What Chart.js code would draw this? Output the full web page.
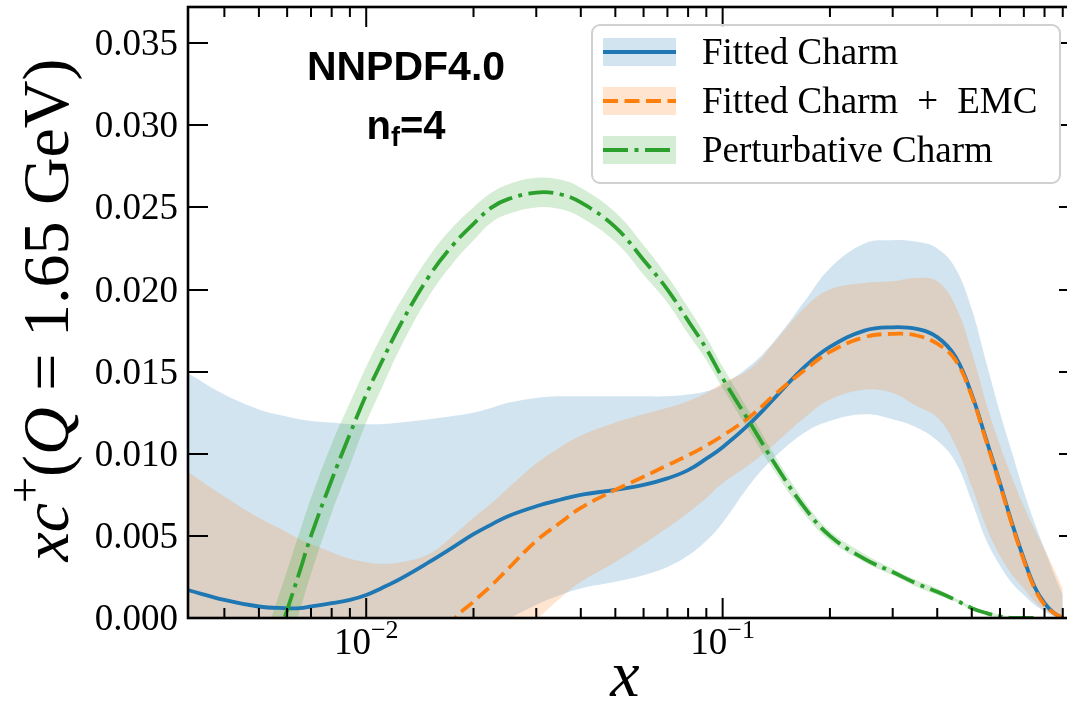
<!DOCTYPE html>
<html>
<head>
<meta charset="utf-8">
<script src="https://cdn.jsdelivr.net/npm/chart.js@4.4.1/dist/chart.umd.min.js"></script>
<style>
  html, body { margin: 0; padding: 0; background: #fff; }
  #wrap { width: 1067px; height: 725px; overflow: hidden; }
</style>
</head>
<body>
<div id="wrap"><canvas id="chart" width="1067" height="725"></canvas></div>
<script>
// x grid (log scale) shared by every series
const xGrid = [0.00316, 0.004, 0.005, 0.0059, 0.0065, 0.007, 0.008, 0.009, 0.01, 0.011,
  0.0125, 0.015, 0.0175, 0.02, 0.0225, 0.025, 0.03, 0.035, 0.04, 0.05,
  0.06, 0.07, 0.08, 0.09, 0.1, 0.12, 0.14, 0.17, 0.2, 0.25,
  0.3, 0.35, 0.4, 0.45, 0.5, 0.55, 0.6, 0.65, 0.7, 0.75,
  0.8, 0.85, 0.9];

// Fitted Charm
const fittedCentral = [0.0017, 0.0011, 0.0007, 0.0006, 0.0006, 0.0007, 0.0009, 0.0011, 0.0014, 0.0018,
  0.0024, 0.0034, 0.0043, 0.0051, 0.0057, 0.0062, 0.0068, 0.0072, 0.0075, 0.0078,
  0.0081, 0.0085, 0.0090, 0.0097, 0.0104, 0.0119, 0.0134, 0.0153, 0.0165, 0.0175,
  0.0177, 0.0176, 0.0171, 0.0159, 0.0136, 0.0108, 0.0082, 0.0057, 0.0036, 0.0019,
  0.0009, 0.0003, 0.0000];
const fittedUpper = [0.0149, 0.0136, 0.0127, 0.0123, 0.0121, 0.0120, 0.0119, 0.0118, 0.0118, 0.0118,
  0.0119, 0.0121, 0.0123, 0.0125, 0.0128, 0.0131, 0.0134, 0.0135, 0.0135, 0.0135,
  0.0135, 0.0135, 0.0136, 0.0138, 0.0142, 0.0154, 0.0169, 0.0193, 0.0213, 0.0228,
  0.0230, 0.0229, 0.0225, 0.0213, 0.0188, 0.0155, 0.0125, 0.0100, 0.0077, 0.0058,
  0.0042, 0.0027, 0.0014];
const fittedLower = [-0.0080, -0.0075, -0.0070, -0.0066, -0.0063, -0.0060, -0.0055, -0.0050, -0.0046, -0.0042,
  -0.0036, -0.0028, -0.0021, -0.0014, -0.0007, -0.0001, 0.0008, 0.0014, 0.0018, 0.0022,
  0.0026, 0.0031, 0.0038, 0.0047, 0.0058, 0.0082, 0.0098, 0.0113, 0.0120, 0.0124,
  0.0121, 0.0116, 0.0108, 0.0095, 0.0071, 0.0047, 0.0032, 0.0021, 0.0014, 0.0008,
  0.0004, 0.0001, 0.0000];

// Fitted Charm + EMC
const emcCentral = [null, null, null, null, null, null, null, null, null, null,
  null, -0.0030, -0.0002, 0.0010, 0.0020, 0.0030, 0.0047, 0.0058, 0.0067, 0.0078,
  0.0086, 0.0093, 0.0099, 0.0105, 0.0111, 0.0123, 0.0136, 0.0151, 0.0162, 0.0171,
  0.0173, 0.0172, 0.0167, 0.0157, 0.0135, 0.0107, 0.0081, 0.0056, 0.0035, 0.0018,
  0.0008, 0.0003, 0.0000];
const emcUpper = [0.0089, 0.0074, 0.0061, 0.0053, 0.0048, 0.0045, 0.0040, 0.0036, 0.0034, 0.0033,
  0.0034, 0.0039, 0.0050, 0.0061, 0.0070, 0.0079, 0.0094, 0.0104, 0.0111, 0.0119,
  0.0124, 0.0128, 0.0132, 0.0137, 0.0143, 0.0152, 0.0168, 0.0189, 0.0200, 0.0204,
  0.0205, 0.0207, 0.0205, 0.0190, 0.0162, 0.0130, 0.0105, 0.0085, 0.0068, 0.0054,
  0.0042, 0.0030, 0.0018];
const emcLower = [-0.0100, -0.0095, -0.0090, -0.0085, -0.0082, -0.0080, -0.0075, -0.0070, -0.0066, -0.0062,
  -0.0057, -0.0050, -0.0043, -0.0035, -0.0026, -0.0015, -0.0001, 0.0012, 0.0022, 0.0034,
  0.0045, 0.0055, 0.0064, 0.0073, 0.0082, 0.0094, 0.0106, 0.0122, 0.0133, 0.0139,
  0.0137, 0.0129, 0.0122, 0.0105, 0.0080, 0.0055, 0.0038, 0.0026, 0.0018, 0.0010,
  0.0005, 0.0002, 0.0000];

// Perturbative Charm
const pertCentral = [null, null, -0.0048, 0.0000, 0.0028, 0.0050, 0.0084, 0.0112, 0.0136, 0.0155,
  0.0179, 0.0208, 0.0227, 0.0240, 0.0250, 0.0255, 0.0259, 0.0258, 0.0253, 0.0238,
  0.0218, 0.0200, 0.0181, 0.0164, 0.0146, 0.0118, 0.0094, 0.0067, 0.0050, 0.0036,
  0.0028, 0.0021, 0.0016, 0.0011, 0.0006, 0.0003, 0.0001, 0.0000, 0.0000, 0.0000,
  null, null, null];
const pertUpper = [null, null, -0.0022, 0.0024, 0.0052, 0.0073, 0.0106, 0.0131, 0.0153, 0.0171,
  0.0193, 0.0220, 0.0238, 0.0250, 0.0259, 0.0264, 0.0268, 0.0267, 0.0262, 0.0247,
  0.0227, 0.0208, 0.0189, 0.0171, 0.0153, 0.0124, 0.0099, 0.0071, 0.0053, 0.0039,
  0.0030, 0.0023, 0.0018, 0.0012, 0.0007, 0.0004, 0.0002, 0.0001, 0.0000, 0.0000,
  null, null, null];
const pertLower = [null, null, -0.0070, -0.0024, 0.0004, 0.0027, 0.0064, 0.0093, 0.0119, 0.0139,
  0.0165, 0.0196, 0.0216, 0.0230, 0.0241, 0.0246, 0.0250, 0.0249, 0.0244, 0.0229,
  0.0209, 0.0192, 0.0173, 0.0157, 0.0140, 0.0112, 0.0089, 0.0063, 0.0047, 0.0034,
  0.0026, 0.0019, 0.0014, 0.0010, 0.0005, 0.0002, 0.0000, 0.0000, 0.0000, 0.0000,
  null, null, null];

// axes: the frame's right edge (x = 1) lies just past the picture's edge
const xMin = 0.0031623, xMax = 0.925;
const yMin = 0, yMax = 0.0372;
const yTicks = [0, 0.005, 0.01, 0.015, 0.02, 0.025, 0.03, 0.035];
const yTickLabels = ["0.000", "0.005", "0.010", "0.015", "0.020", "0.025", "0.030", "0.035"];
const xMajorTicks = [0.01, 0.1];
const xMajorExponents = ["\u22122", "\u22121"];
const xMinorTicks = [0.004, 0.005, 0.006, 0.007, 0.008, 0.009,
  0.02, 0.03, 0.04, 0.05, 0.06, 0.07, 0.08, 0.09,
  0.2, 0.3, 0.4, 0.5, 0.6, 0.7, 0.8, 0.9];

// legend labels, each as text pieces (the "+" sits in wider spacing)
const seriesLabels = [["Fitted Charm"], ["Fitted Charm", "+", "EMC"], ["Perturbative Charm"]];

const blue = "#1f77b4", orange = "#ff7f0e", green = "#2ca02c";
const blueBand = "rgba(31,119,180,0.2)", orangeBand = "rgba(255,127,14,0.2)", greenBand = "rgba(44,160,44,0.2)";
const serif = "'Liberation Serif', 'DejaVu Serif', serif";
const sans = "'Liberation Sans', Arial, sans-serif";

function pts(ys) {
  var out = [];
  for (var i = 0; i < xGrid.length; i++) {
    if (ys[i] !== null) out.push({ x: xGrid[i], y: ys[i] });
  }
  return out;
}

function band(ys, color, target, order) {
  return { data: pts(ys), borderWidth: 0, borderColor: "rgba(0,0,0,0)",
    backgroundColor: color, fill: target, order: order };
}

function curve(ys, color, dash, order) {
  return { data: pts(ys), borderColor: color, borderWidth: 3.8, borderDash: dash,
    fill: false, order: order };
}

// draws a list of text pieces one after another
function drawRuns(ctx, runs, x, y) {
  runs.forEach(function (r) {
    ctx.font = r.font;
    ctx.fillText(r.t, x, y + (r.dy || 0));
    x += ctx.measureText(r.t).width + (r.gap || 0);
  });
}
function runsWidth(ctx, runs) {
  var w = 0;
  runs.forEach(function (r) { ctx.font = r.font; w += ctx.measureText(r.t).width + (r.gap || 0); });
  return w;
}

// axes frame, inward ticks, labels, annotation and legend
var decorations = {
  id: "decorations",
  afterDraw: function (chart) {
    var ctx = chart.ctx, a = chart.chartArea;
    var xs = chart.scales.x, ys = chart.scales.y;
    var rightSpine = a.right + 12;
    ctx.save();
    ctx.strokeStyle = "#000";

    // ticks
    ctx.lineWidth = 2;
    ctx.beginPath();
    yTicks.forEach(function (v) {
      var p = Math.round(ys.getPixelForValue(v));
      ctx.moveTo(a.left, p); ctx.lineTo(a.left + 20, p);
      ctx.moveTo(rightSpine, p); ctx.lineTo(rightSpine - 20, p);
    });
    xMajorTicks.forEach(function (v) {
      var p = xs.getPixelForValue(v);
      ctx.moveTo(p, a.bottom); ctx.lineTo(p, a.bottom - 20);
      ctx.moveTo(p, a.top); ctx.lineTo(p, a.top + 20);
    });
    xMinorTicks.forEach(function (v) {
      var p = xs.getPixelForValue(v);
      ctx.moveTo(p, a.bottom); ctx.lineTo(p, a.bottom - 10);
      ctx.moveTo(p, a.top); ctx.lineTo(p, a.top + 10);
    });
    ctx.stroke();

    // frame (right side is off the picture)
    ctx.lineWidth = 2.6;
    ctx.strokeRect(a.left, a.top, rightSpine - a.left, a.bottom - a.top);

    // y tick labels
    ctx.fillStyle = "#000";
    ctx.font = "37px " + serif;
    ctx.textAlign = "right";
    ctx.textBaseline = "alphabetic";
    yTicks.forEach(function (v, i) {
      ctx.fillText(yTickLabels[i], a.left - 10, ys.getPixelForValue(v) + 12);
    });

    // x tick labels 10^n
    ctx.textAlign = "left";
    xMajorTicks.forEach(function (v, i) {
      var runs = [{ t: "10", font: "37px " + serif },
                  { t: xMajorExponents[i], font: "26px " + serif, dy: -16 }];
      var w = runsWidth(ctx, runs);
      drawRuns(ctx, runs, xs.getPixelForValue(v) - w / 2, 654);
    });

    // axis titles
    var fs = 66;
    var xRuns = [{ t: "x", font: "italic " + fs + "px " + serif }];
    var xw = runsWidth(ctx, xRuns);
    drawRuns(ctx, xRuns, 625 - xw / 2, 696);

    var yRuns = [
      { t: "x", font: "italic " + fs + "px " + serif },
      { t: "c", font: "italic " + fs + "px " + serif },
      { t: "+", font: Math.round(fs * 0.7) + "px " + serif, dy: -Math.round(fs * 0.42) },
      { t: "(", font: fs + "px " + serif },
      { t: "Q", font: "italic " + fs + "px " + serif },
      { t: " = 1.65 GeV)", font: fs + "px " + serif }
    ];
    var yw = runsWidth(ctx, yRuns);
    ctx.save();
    ctx.translate(68, 310);
    ctx.rotate(-Math.PI / 2);
    drawRuns(ctx, yRuns, -yw / 2, 0);
    ctx.restore();

    // annotation
    ctx.font = "bold 41px " + sans;
    ctx.textAlign = "center";
    ctx.fillText("NNPDF4.0", 406, 80);
    ctx.textAlign = "left";
    var nRuns = [{ t: "n", font: "bold 40px " + sans },
                 { t: "f", font: "bold 27px " + sans, dy: 7 },
                 { t: "=4", font: "bold 40px " + sans }];
    var nw = runsWidth(ctx, nRuns);
    drawRuns(ctx, nRuns, 406 - nw / 2, 139);

    // legend
    var lx = 592, ly = 25, lw = 468, lh = 158;
    ctx.beginPath();
    ctx.roundRect(lx, ly, lw, lh, 8);
    ctx.fillStyle = "rgba(255,255,255,0.8)";
    ctx.fill();
    ctx.lineWidth = 2;
    ctx.strokeStyle = "#d0d0d0";
    ctx.stroke();

    var rows = [52, 101, 150];
    var lineCols = [blue, orange, green];
    var bandCols = [blueBand, orangeBand, greenBand];
    var dashes = [[], [15, 6.5], [25, 6.5, 4, 6.5]];
    rows.forEach(function (ry, i) {
      ctx.fillStyle = bandCols[i];
      ctx.fillRect(603, ry - 14, 73, 28);
      ctx.beginPath();
      ctx.setLineDash(dashes[i]);
      ctx.strokeStyle = lineCols[i];
      ctx.lineWidth = 3.8;
      ctx.moveTo(603, ry); ctx.lineTo(676, ry);
      ctx.stroke();
      ctx.setLineDash([]);
      ctx.fillStyle = "#000";
      var runs = seriesLabels[i].map(function (t) { return { t: t, font: "37px " + serif, gap: 19 }; });
      drawRuns(ctx, runs, 702, ry + 12);
    });
    ctx.restore();
  }
};

var chart = new Chart(document.getElementById("chart"), {
  type: "line",
  data: {
    datasets: [
      band(fittedUpper, blueBand, 1, 10),
      band(fittedLower, "rgba(0,0,0,0)", false, 10),
      band(emcUpper, orangeBand, 3, 9),
      band(emcLower, "rgba(0,0,0,0)", false, 9),
      band(pertUpper, greenBand, 5, 8),
      band(pertLower, "rgba(0,0,0,0)", false, 8),
      curve(fittedCentral, blue, [], 3),
      curve(emcCentral, orange, [15, 6.5], 2),
      curve(pertCentral, green, [25, 6.5, 4, 6.5], 1)
    ]
  },
  options: {
    responsive: false,
    animation: false,
    devicePixelRatio: 1,
    layout: { padding: { left: 188, right: 0, top: 7, bottom: 107 } },
    elements: {
      point: { radius: 0, hoverRadius: 0 },
      line: { tension: 0.4 }
    },
    plugins: {
      legend: { display: false },
      tooltip: { enabled: false },
      title: { display: false }
    },
    scales: {
      x: { type: "logarithmic", min: xMin, max: xMax, display: false },
      y: { type: "linear", min: yMin, max: yMax, display: false }
    }
  },
  plugins: [decorations]
});
</script>
</body>
</html>
